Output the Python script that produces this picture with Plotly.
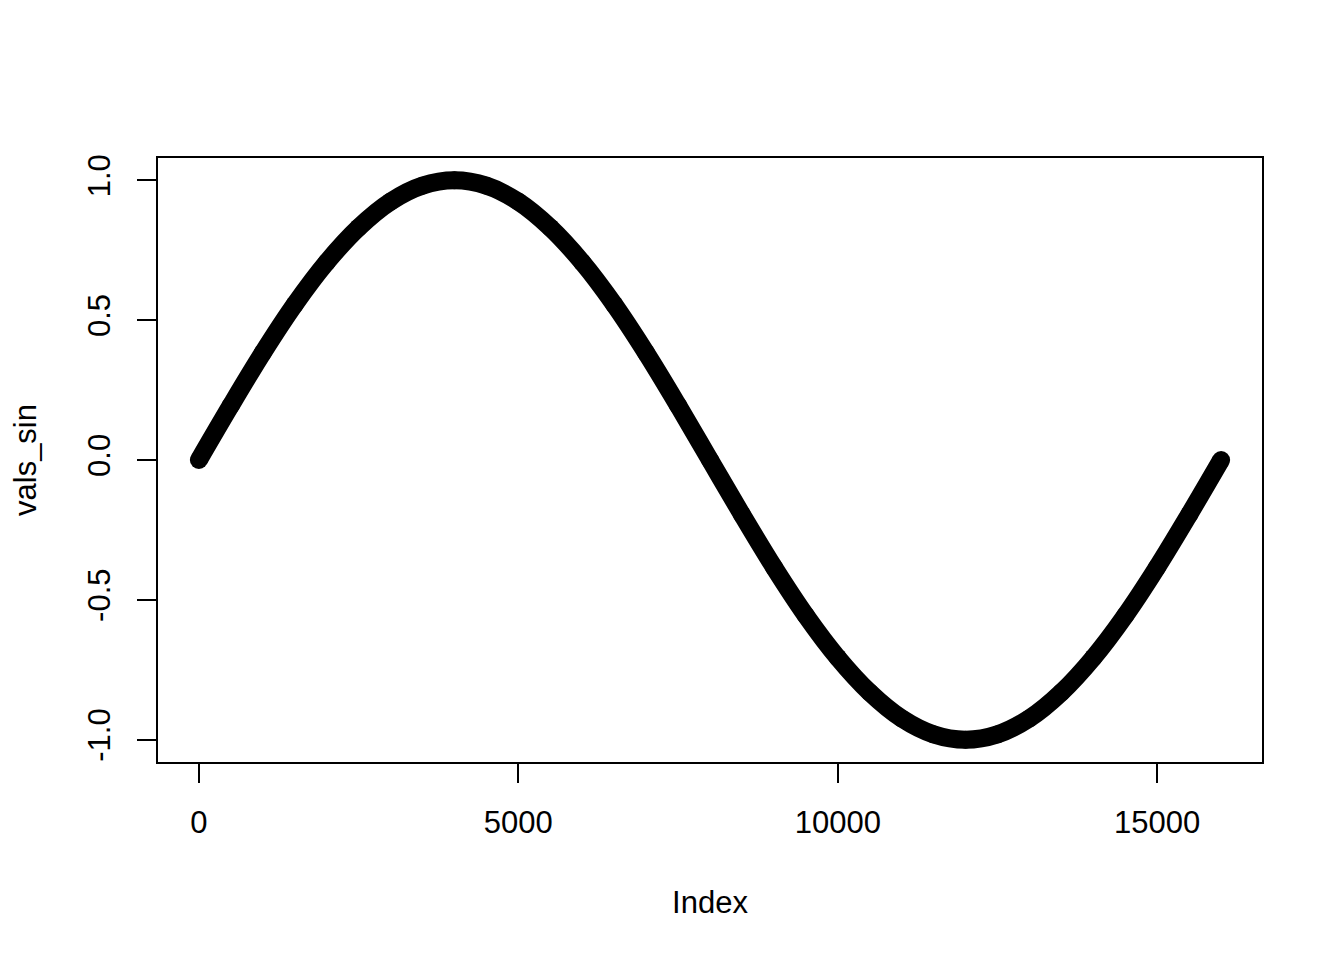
import plotly.graph_objects as go

index_vals = [0, 500, 1000, 1500, 2000, 2500, 3000, 3500, 4000, 4500, 5000, 5500,
              6000, 6500, 7000, 7500, 8000, 8500, 9000, 9500, 10000, 10500, 11000,
              11500, 12000, 12500, 13000, 13500, 14000, 14500, 15000, 15500, 16000]
vals_sin = [0.0, 0.195, 0.383, 0.556, 0.707, 0.831, 0.924, 0.981, 1.0, 0.981, 0.924,
            0.831, 0.707, 0.556, 0.383, 0.195, 0.0, -0.195, -0.383, -0.556, -0.707,
            -0.831, -0.924, -0.981, -1.0, -0.981, -0.924, -0.831, -0.707, -0.556,
            -0.383, -0.195, 0.0]

x_ticks = [0, 5000, 10000, 15000]
y_ticks = [-1.0, -0.5, 0.0, 0.5, 1.0]
y_tick_text = ["-1.0", "-0.5", "0.0", "0.5", "1.0"]

fig = go.Figure()
fig.add_trace(go.Scatter(
    x=index_vals, y=vals_sin, mode="lines+markers",
    line=dict(color="black", width=18, shape="spline"),
    marker=dict(color="black", size=18, line=dict(width=0)),
    showlegend=False, hoverinfo="skip",
))

font = dict(family="Liberation Sans, Arial, sans-serif", size=31, color="black")
fig.update_layout(
    width=1344, height=960,
    margin=dict(l=150, r=90, t=150, b=206),
    paper_bgcolor="white", plot_bgcolor="white",
    font=font,
    xaxis=dict(
        range=[-640, 16640], tickvals=x_ticks, ticktext=[str(v) for v in x_ticks],
        ticks="outside", ticklen=19, tickwidth=2, tickcolor="black",
        showline=True, linecolor="black", linewidth=2, mirror=True,
        showgrid=False, zeroline=False, ticklabelstandoff=13, automargin=False,
        title=dict(text="Index", standoff=52, font=font),
    ),
    yaxis=dict(
        range=[-1.08, 1.08], tickvals=y_ticks, ticktext=y_tick_text, tickangle=-90,
        ticks="outside", ticklen=19, tickwidth=2, tickcolor="black",
        showline=True, linecolor="black", linewidth=2, mirror=True,
        showgrid=False, zeroline=False, ticklabelstandoff=15, automargin=False,
        title=dict(text="vals_sin", standoff=48, font=font),
    ),
)
fig.write_html("out.html")
